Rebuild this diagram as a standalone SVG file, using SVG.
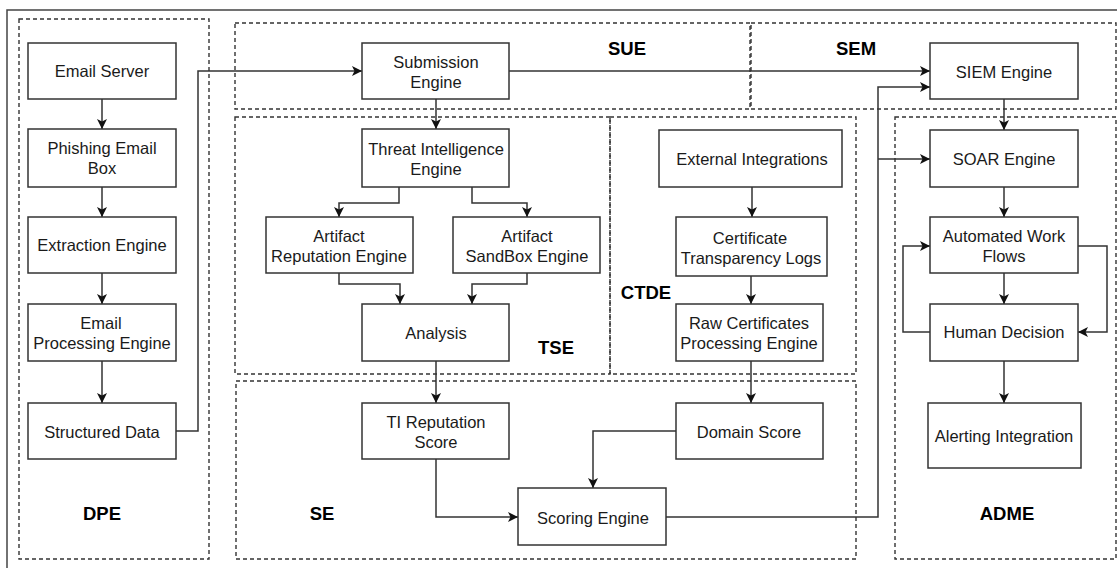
<svg xmlns="http://www.w3.org/2000/svg" width="1117" height="568" viewBox="0 0 1117 568">
<style>
.frame{fill:none;stroke:#444;stroke-width:1.5}
.grp{fill:none;stroke:#333;stroke-width:1.4;stroke-dasharray:4 3}
.box{fill:#fff;stroke:#333;stroke-width:1.5}
.t{font-family:"Liberation Sans",Arial,sans-serif;font-size:16.5px;fill:#1a1a1a;text-anchor:middle;dominant-baseline:central}
.lbl{font-family:"Liberation Sans",Arial,sans-serif;font-size:18.5px;font-weight:bold;fill:#000;text-anchor:middle;dominant-baseline:central}
.c{fill:none;stroke:#333;stroke-width:1.5;marker-end:url(#arr)}
.cn{fill:none;stroke:#333;stroke-width:1.5}
</style>
<defs>
<marker id="arr" markerUnits="userSpaceOnUse" markerWidth="12" markerHeight="12" refX="10" refY="5" orient="auto">
<path d="M0,0 L10,5 L0,10 L2.5,5 z" fill="#111"/>
</marker>
</defs>
<rect width="1117" height="568" fill="#fff"/>
<rect class="frame" x="7" y="10" width="1120" height="570"/>

<g id="containers">
<rect class="grp" x="19" y="19" width="190" height="540"/>
<rect class="grp" x="235" y="23" width="515" height="86"/>
<rect class="grp" x="751" y="23" width="365" height="86"/>
<rect class="grp" x="235" y="117" width="375" height="257"/>
<rect class="grp" x="610" y="117" width="246" height="257"/>
<rect class="grp" x="236" y="381" width="620" height="178"/>
<rect class="grp" x="895" y="117" width="221" height="442"/>
<text class="lbl" x="102" y="513">DPE</text>
<text class="lbl" x="627" y="48">SUE</text>
<text class="lbl" x="856" y="48">SEM</text>
<text class="lbl" x="556" y="347">TSE</text>
<text class="lbl" x="646" y="292">CTDE</text>
<text class="lbl" x="322" y="513">SE</text>
<text class="lbl" x="1007" y="513">ADME</text>
</g>

<g id="connectors">
<path class="c" d="M102,99 V129"/>
<path class="c" d="M102,187 V217"/>
<path class="c" d="M102,273 V304"/>
<path class="c" d="M102,361 V403"/>
<path class="c" d="M176,431 H198 V71 H362"/>
<path class="c" d="M509,71 H930"/>
<path class="c" d="M436,99 V129"/>
<path class="c" d="M399,187 V203 H339 V217"/>
<path class="c" d="M472,187 V203 H527 V217"/>
<path class="c" d="M339,273 V284 H400 V304"/>
<path class="c" d="M527,273 V284 H472 V304"/>
<path class="c" d="M436,361 V403"/>
<path class="c" d="M436,459 V517 H518"/>
<path class="c" d="M752,187 V217"/>
<path class="c" d="M751,276 V304"/>
<path class="c" d="M751,361 V403"/>
<path class="c" d="M676,431 H593 V488"/>
<path class="c" d="M666,517 H878 V87 H930"/>
<path class="c" d="M878,159 H930"/>
<path class="c" d="M1004,99 V130"/>
<path class="c" d="M1004,187 V217"/>
<path class="c" d="M1004,273 V304"/>
<path class="c" d="M930,332 H903 V246 H930"/>
<path class="c" d="M1078,246 H1107 V332 H1078"/>
<path class="c" d="M1004,361 V403"/>
</g>

<g id="email-server"><rect class="box" x="28" y="43" width="148" height="56"/><text class="t" x="102" y="71">Email Server</text></g>
<g id="phishing-box"><rect class="box" x="28" y="129" width="148" height="58"/><text class="t" x="102" y="148">Phishing Email</text><text class="t" x="102" y="168">Box</text></g>
<g id="extraction-engine"><rect class="box" x="28" y="217" width="148" height="56"/><text class="t" x="102" y="245">Extraction Engine</text></g>
<g id="email-processing"><rect class="box" x="28" y="304" width="148" height="57"/><text class="t" x="101" y="323">Email</text><text class="t" x="102" y="343">Processing Engine</text></g>
<g id="structured-data"><rect class="box" x="28" y="403" width="148" height="56"/><text class="t" x="102" y="432">Structured Data</text></g>

<g id="submission-engine"><rect class="box" x="362" y="43" width="147" height="56"/><text class="t" x="436" y="62">Submission</text><text class="t" x="436" y="82">Engine</text></g>
<g id="siem-engine"><rect class="box" x="930" y="43" width="148" height="56"/><text class="t" x="1004" y="72">SIEM Engine</text></g>

<g id="threat-intel"><rect class="box" x="362" y="129" width="147" height="58"/><text class="t" x="436" y="149">Threat Intelligence</text><text class="t" x="436" y="169">Engine</text></g>
<g id="artifact-reputation"><rect class="box" x="266" y="217" width="147" height="56"/><text class="t" x="339" y="236">Artifact</text><text class="t" x="339" y="256">Reputation Engine</text></g>
<g id="artifact-sandbox"><rect class="box" x="453" y="217" width="147" height="56"/><text class="t" x="527" y="236">Artifact</text><text class="t" x="527" y="256">SandBox Engine</text></g>
<g id="analysis"><rect class="box" x="362" y="304" width="147" height="57"/><text class="t" x="436" y="333">Analysis</text></g>

<g id="external-integrations"><rect class="box" x="659" y="130" width="183" height="57"/><text class="t" x="752" y="159">External Integrations</text></g>
<g id="ct-logs"><rect class="box" x="676" y="217" width="151" height="59"/><text class="t" x="750" y="238">Certificate</text><text class="t" x="751" y="258">Transparency Logs</text></g>
<g id="raw-certificates"><rect class="box" x="676" y="304" width="147" height="57"/><text class="t" x="749" y="323">Raw Certificates</text><text class="t" x="749" y="343">Processing Engine</text></g>

<g id="ti-reputation"><rect class="box" x="362" y="403" width="147" height="56"/><text class="t" x="436" y="422">TI Reputation</text><text class="t" x="436" y="442">Score</text></g>
<g id="domain-score"><rect class="box" x="676" y="403" width="147" height="56"/><text class="t" x="749" y="432">Domain Score</text></g>
<g id="scoring-engine"><rect class="box" x="518" y="488" width="148" height="57"/><text class="t" x="593" y="518">Scoring Engine</text></g>

<g id="soar-engine"><rect class="box" x="930" y="130" width="148" height="57"/><text class="t" x="1004" y="159">SOAR Engine</text></g>
<g id="automated-workflows"><rect class="box" x="930" y="217" width="148" height="56"/><text class="t" x="1004" y="236">Automated Work</text><text class="t" x="1004" y="256">Flows</text></g>
<g id="human-decision"><rect class="box" x="930" y="304" width="148" height="57"/><text class="t" x="1004" y="332">Human Decision</text></g>
<g id="alerting-integration"><rect class="box" x="928" y="403" width="153" height="65"/><text class="t" x="1004" y="436">Alerting Integration</text></g>
</svg>
